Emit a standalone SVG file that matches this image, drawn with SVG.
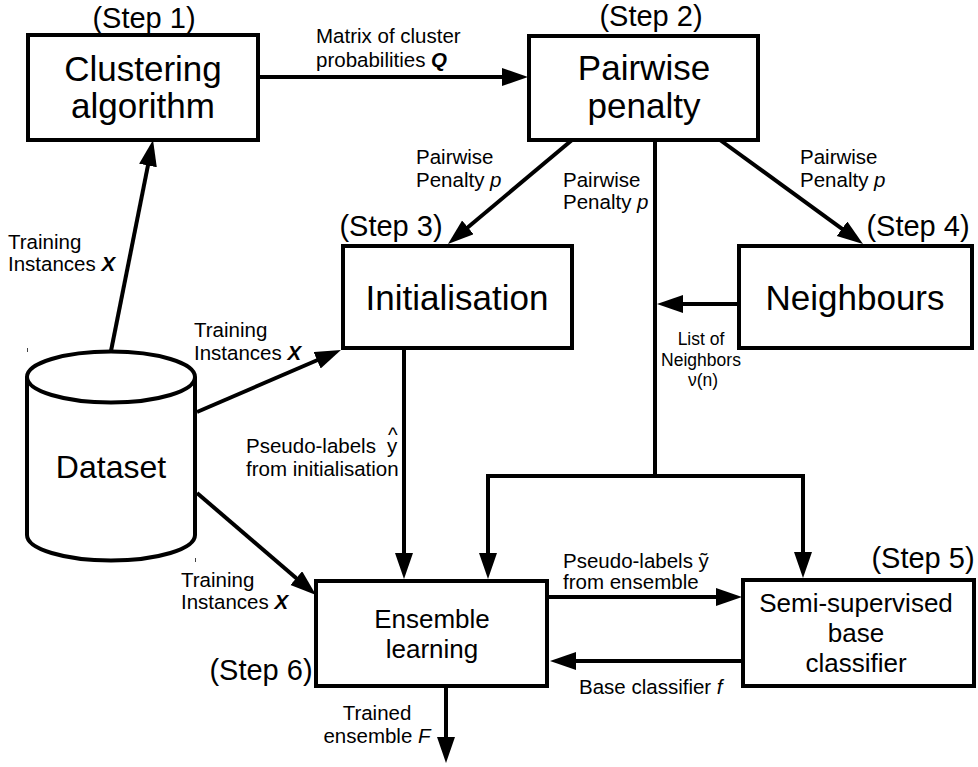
<svg xmlns="http://www.w3.org/2000/svg" width="978" height="767" viewBox="0 0 978 767">
<defs>
<style>
text{font-family:"Liberation Sans",Arial,sans-serif;fill:#000}
.box{fill:#fff;stroke:#000;stroke-width:4}
.title{font-size:35px;text-anchor:middle}
.mid{font-size:26px;text-anchor:middle}
.step{font-size:29px;text-anchor:middle}
.lbl{font-size:20.5px}
.sm{font-size:17.5px;text-anchor:middle}
.c{text-anchor:middle}
.bi{font-weight:bold;font-style:italic}
.it{font-style:italic}
.ln{fill:none;stroke:#000;stroke-width:4}
.ar{fill:none;stroke:#000;stroke-width:4;marker-end:url(#ah)}
.tick{stroke:#444;stroke-width:1}
</style>
<marker id="ah" markerUnits="userSpaceOnUse" markerWidth="28" markerHeight="20" refX="12" refY="9" orient="auto">
<path d="M0,0 L26,9 L0,18 z" fill="#000"/>
</marker>
</defs>
<rect width="978" height="767" fill="#fff"/>

<g id="connectors">
<line class="ar" x1="111" y1="351" x2="150.3" y2="153.7"/>
<line class="ar" x1="258" y1="77" x2="514" y2="77"/>
<line class="ar" x1="572" y1="140" x2="458.7" y2="235"/>
<line class="ar" x1="720" y1="140" x2="851.7" y2="235.8"/>
<polyline class="ln" points="655,140 655,476"/>
<polyline class="ln" points="488,476 803,476"/>
<line class="ar" x1="488" y1="474" x2="488" y2="565"/>
<line class="ar" x1="803" y1="474" x2="803" y2="564"/>
<line class="ar" x1="739" y1="304" x2="671" y2="304"/>
<line class="ar" x1="197" y1="412" x2="328.1" y2="355.5"/>
<line class="ar" x1="197" y1="493" x2="305.4" y2="585.9"/>
<line class="ar" x1="404" y1="348" x2="404" y2="565"/>
<line class="ar" x1="547" y1="597" x2="728" y2="597"/>
<line class="ar" x1="743" y1="661" x2="564" y2="661"/>
<line class="ar" x1="446" y1="686" x2="446" y2="749"/>
</g>

<g id="edge-labels">
<text class="lbl" x="316" y="43">Matrix of cluster</text>
<text class="lbl" x="316" y="67">probabilities <tspan class="bi">Q</tspan></text>
<text class="lbl" x="416" y="164">Pairwise</text>
<text class="lbl" x="416" y="187">Penalty <tspan class="it">p</tspan></text>
<text class="lbl" x="563" y="187">Pairwise</text>
<text class="lbl" x="563" y="209">Penalty <tspan class="it">p</tspan></text>
<text class="lbl" x="800" y="164">Pairwise</text>
<text class="lbl" x="800" y="187">Penalty <tspan class="it">p</tspan></text>
<text class="sm" x="701" y="345">List of</text>
<text class="sm" x="701" y="366">Neighbors</text>
<text class="sm" x="703" y="386">ν(n)</text>
<text class="lbl" x="8" y="249">Training</text>
<text class="lbl" x="8" y="271">Instances <tspan class="bi">X</tspan></text>
<text class="lbl" x="194" y="337">Training</text>
<text class="lbl" x="194" y="360">Instances <tspan class="bi">X</tspan></text>
<text class="lbl" x="181" y="587">Training</text>
<text class="lbl" x="181" y="609">Instances <tspan class="bi">X</tspan></text>
<text class="lbl" x="246" y="453">Pseudo-labels<tspan x="387" y="453">y</tspan><tspan x="388" y="442">^</tspan></text>
<text class="lbl" x="246" y="476">from initialisation</text>
<text class="lbl" x="563" y="568">Pseudo-labels ỹ</text>
<text class="lbl" x="563" y="589">from ensemble</text>
<text class="lbl" x="579" y="694">Base classifier <tspan class="it">f</tspan></text>
<text class="lbl c" x="377" y="720">Trained</text>
<text class="lbl c" x="377" y="743">ensemble <tspan class="it">F</tspan></text>
</g>

<g id="clustering">
<rect class="box" x="28" y="35" width="230" height="105"/>
<text class="step" x="144" y="28">(Step 1)</text>
<text class="title" x="143" y="81">Clustering</text>
<text class="title" x="143" y="118">algorithm</text>
</g>

<g id="pairwise">
<rect class="box" x="529" y="36" width="229" height="104"/>
<text class="step" x="651" y="26">(Step 2)</text>
<text class="title" x="644" y="80">Pairwise</text>
<text class="title" x="644" y="118">penalty</text>
</g>

<g id="initialisation">
<rect class="box" x="343" y="246" width="229" height="102"/>
<text class="step" x="391" y="236">(Step 3)</text>
<text class="title" x="457" y="310">Initialisation</text>
</g>

<g id="neighbours">
<rect class="box" x="739" y="246" width="233" height="102"/>
<text class="step" x="918" y="236">(Step 4)</text>
<text class="title" x="855" y="310">Neighbours</text>
</g>

<g id="dataset">
<path d="M27,377 A84,25.5 0 0,1 195,377 L195,535 A84,25.5 0 0,1 27,535 Z" fill="#fff" stroke="#000" stroke-width="4"/>
<path d="M27,377 A84,25.5 0 0,0 195,377" fill="none" stroke="#000" stroke-width="4"/>
<text class="title" x="111" y="478" style="font-size:32px">Dataset</text>
<line class="tick" x1="27.5" y1="348" x2="27.5" y2="352"/>
<line class="tick" x1="195.5" y1="558" x2="195.5" y2="562"/>
</g>

<g id="ensemble">
<rect class="box" x="316" y="581" width="231" height="105"/>
<text class="step" x="261" y="680">(Step 6)</text>
<text class="mid" x="432" y="628">Ensemble</text>
<text class="mid" x="432" y="658">learning</text>
</g>

<g id="semi">
<rect class="box" x="743" y="580" width="231" height="106"/>
<text class="step" x="923" y="568">(Step 5)</text>
<text class="mid" x="856" y="612">Semi-supervised</text>
<text class="mid" x="856" y="642">base</text>
<text class="mid" x="856" y="672">classifier</text>
</g>
</svg>
